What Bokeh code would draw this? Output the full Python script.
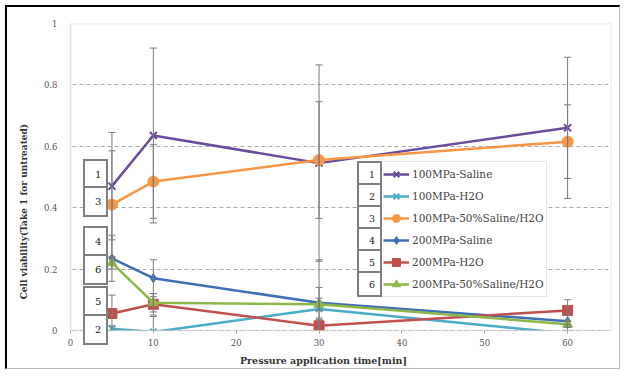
from bokeh.plotting import figure
from bokeh.models import (ColumnDataSource, Whisker, TeeHead, Legend, LegendItem,
                          FixedTicker, Range1d, BoxAnnotation)
from bokeh.embed import file_html
from bokeh.resources import INLINE

# ---- data ----
times = [5, 10, 30, 60]
series_names = ["100MPa-Saline", "100MPa-H2O", "100MPa-50%Saline/H2O",
                "200MPa-Saline", "200MPa-H2O", "200MPa-50%Saline/H2O"]
s1 = [0.47, 0.635, 0.545, 0.66]
s2 = [0.005, -0.005, 0.07, -0.01]
s3 = [0.41, 0.485, 0.555, 0.615]
s4 = [0.235, 0.17, 0.09, 0.03]
s5 = [0.055, 0.085, 0.015, 0.065]
s6 = [0.22, 0.09, 0.085, 0.02]
e1 = [0.175, 0.285, 0.32, 0.23]
e2 = [0.01, 0.05, 0.16, 0.03]
e3 = [0.175, 0.12, 0.19, 0.12]
e4 = [0.075, 0.06, 0.05, 0.02]
e5 = [0.06, 0.035, 0.02, 0.035]
e6 = [0.02, 0.03, 0.02, 0.01]
y_ticks = [0, 0.2, 0.4, 0.6, 0.8, 1]
x_ticks = [0, 10, 20, 30, 40, 50, 60]
legend_numbers = ["1", "2", "3", "4", "5", "6"]
side_numbers = ["1", "3", "4", "6", "5", "2"]

values = [s1, s2, s3, s4, s5, s6]
errors = [e1, e2, e3, e4, e5, e6]
colors = ["#6A4C9C", "#4BACC6", "#F79646", "#3F6FB5", "#C0504D", "#8DB849"]
markers = ["x", "x", "circle", "diamond", "square", "triangle"]
msizes = [10, 9, 11, 9, 10, 10]

SERIF = "DejaVu Serif"
NB = "\u00a0"
X_MIN, X_MAX = -1.45, 65.3
# the frame reaches down to the canvas bottom; the x axis sits at y=0 inside it
Y_MIN, Y_MAX = -0.134, 1.0

p = figure(width=615, height=364, output_backend="svg", toolbar_location=None,
           x_range=Range1d(X_MIN, X_MAX), y_range=Range1d(Y_MIN, Y_MAX),
           min_border_left=51, min_border_right=11, min_border_top=16,
           min_border_bottom=0)
p.margin = (5, 0, 0, 5)
p.styles = {"border-top": "2px solid #000000", "border-left": "2px solid #000000",
            "border-right": "1px solid #b8b8b8", "border-bottom": "1px solid #b8b8b8"}
p.background_fill_color = "white"
p.outline_line_color = None

p.xgrid.visible = False
p.ygrid.grid_line_color = "#a8a8a8"
p.ygrid.grid_line_dash = "4 3"
p.ygrid.ticker = FixedTicker(ticks=y_ticks)

p.yaxis.ticker = FixedTicker(ticks=y_ticks)
p.xaxis.ticker = FixedTicker(ticks=x_ticks)
p.yaxis.major_label_overrides = {0: "0", 1: "1"}
p.xaxis.fixed_location = 0
for ax in (p.xaxis[0], p.yaxis[0]):
    ax.axis_line_color = None
    ax.major_tick_line_color = "#a0a0a0"
    ax.major_tick_out = 3
    ax.major_tick_in = 0
    ax.minor_tick_line_color = None
    ax.major_label_text_font = SERIF
    ax.major_label_text_font_size = "8.5px"
    ax.major_label_text_color = "#555555"
    ax.axis_label_text_font = SERIF
    ax.axis_label_text_font_style = "bold"
    ax.axis_label_text_color = "#333333"
p.yaxis.major_tick_line_color = None
p.yaxis.major_tick_out = 0
p.yaxis.major_label_standoff = 1
p.xaxis.major_label_standoff = 6
p.xaxis.axis_label_text_font_size = "9.5px"
p.yaxis.axis_label_text_font_size = "9px"
p.xaxis.axis_label = "Pressure application time[min]" + NB * 7
p.yaxis.axis_label = "Cell viability(Take 1 for untreated)" + NB * 9
p.xaxis.axis_label_standoff = 5
p.yaxis.axis_label_standoff = 12

# error bars
for vals, errs in zip(values, errors):
    src = ColumnDataSource(dict(x=times, lo=[v - e for v, e in zip(vals, errs)],
                                hi=[v + e for v, e in zip(vals, errs)]))
    w = Whisker(base="x", lower="lo", upper="hi", source=src,
                line_color="#7a7a7a", line_width=1, level="glyph",
                upper_head=TeeHead(size=7, line_color="#7a7a7a", line_width=1),
                lower_head=TeeHead(size=7, line_color="#7a7a7a", line_width=1))
    p.add_layout(w)

items = []
for name, vals, col, mk, ms in zip(series_names, values, colors, markers, msizes):
    src = ColumnDataSource(dict(x=times, y=vals))
    ln = p.line("x", "y", source=src, line_color=col, line_width=2.5)
    sc = p.scatter("x", "y", source=src, marker=mk, size=ms, fill_color=col,
                   line_color=col, line_width=2 if mk == "x" else 1)
    items.append(LegendItem(label=name, renderers=[ln, sc]))

# white masks outside the plot box (below y=0, left of x=0) and the grey box itself
p.add_layout(BoxAnnotation(top=0, fill_color="white", fill_alpha=1,
                           line_color=None, level="glyph"))
p.add_layout(BoxAnnotation(right=0, fill_color="white", fill_alpha=1,
                           line_color=None, level="glyph"))
p.add_layout(BoxAnnotation(left=0, right=X_MAX, bottom=0, top=Y_MAX,
                           fill_alpha=0, line_color="#a0a0a0", line_width=1.5,
                           level="glyph"))

legend = Legend(items=items, location=(322, 74), padding=2, spacing=2,
                glyph_width=26, glyph_height=20, label_height=20,
                label_standoff=3, label_text_font=SERIF,
                label_text_font_size="10.5px", label_text_color="#444444",
                border_line_color="#c8c8c8", background_fill_color="white",
                background_fill_alpha=1, margin=0)
p.add_layout(legend)

# invisible renderer used only to carry the numbered boxes
dummy = p.line(x=[], y=[], line_alpha=0)


def num_box(loc, txt, pad, row_h, size):
    p.add_layout(Legend(items=[LegendItem(label=txt, renderers=[dummy])],
                        location=loc, padding=pad, margin=0,
                        glyph_width=0, glyph_height=row_h, label_height=row_h,
                        label_width=0, label_standoff=5, label_text_align="center",
                        label_text_font=SERIF, label_text_font_size=size,
                        label_text_color="#222222",
                        border_line_color="black", border_line_width=2,
                        background_fill_color="white", background_fill_alpha=1))


# numbered column inside the legend (frame-relative pixel positions)
for i, txt in enumerate(legend_numbers):
    num_box((299, 184 - 22 * i), txt, 5, 12, "9.5px")

# numbered boxes on the left side
side_bottoms = [181, 154, 114, 86, 54, 26]
for txt, b in zip(side_numbers, side_bottoms):
    num_box((25, b), txt, 5, 17, "10px")

open("out.html", "w").write(file_html(p, INLINE))
